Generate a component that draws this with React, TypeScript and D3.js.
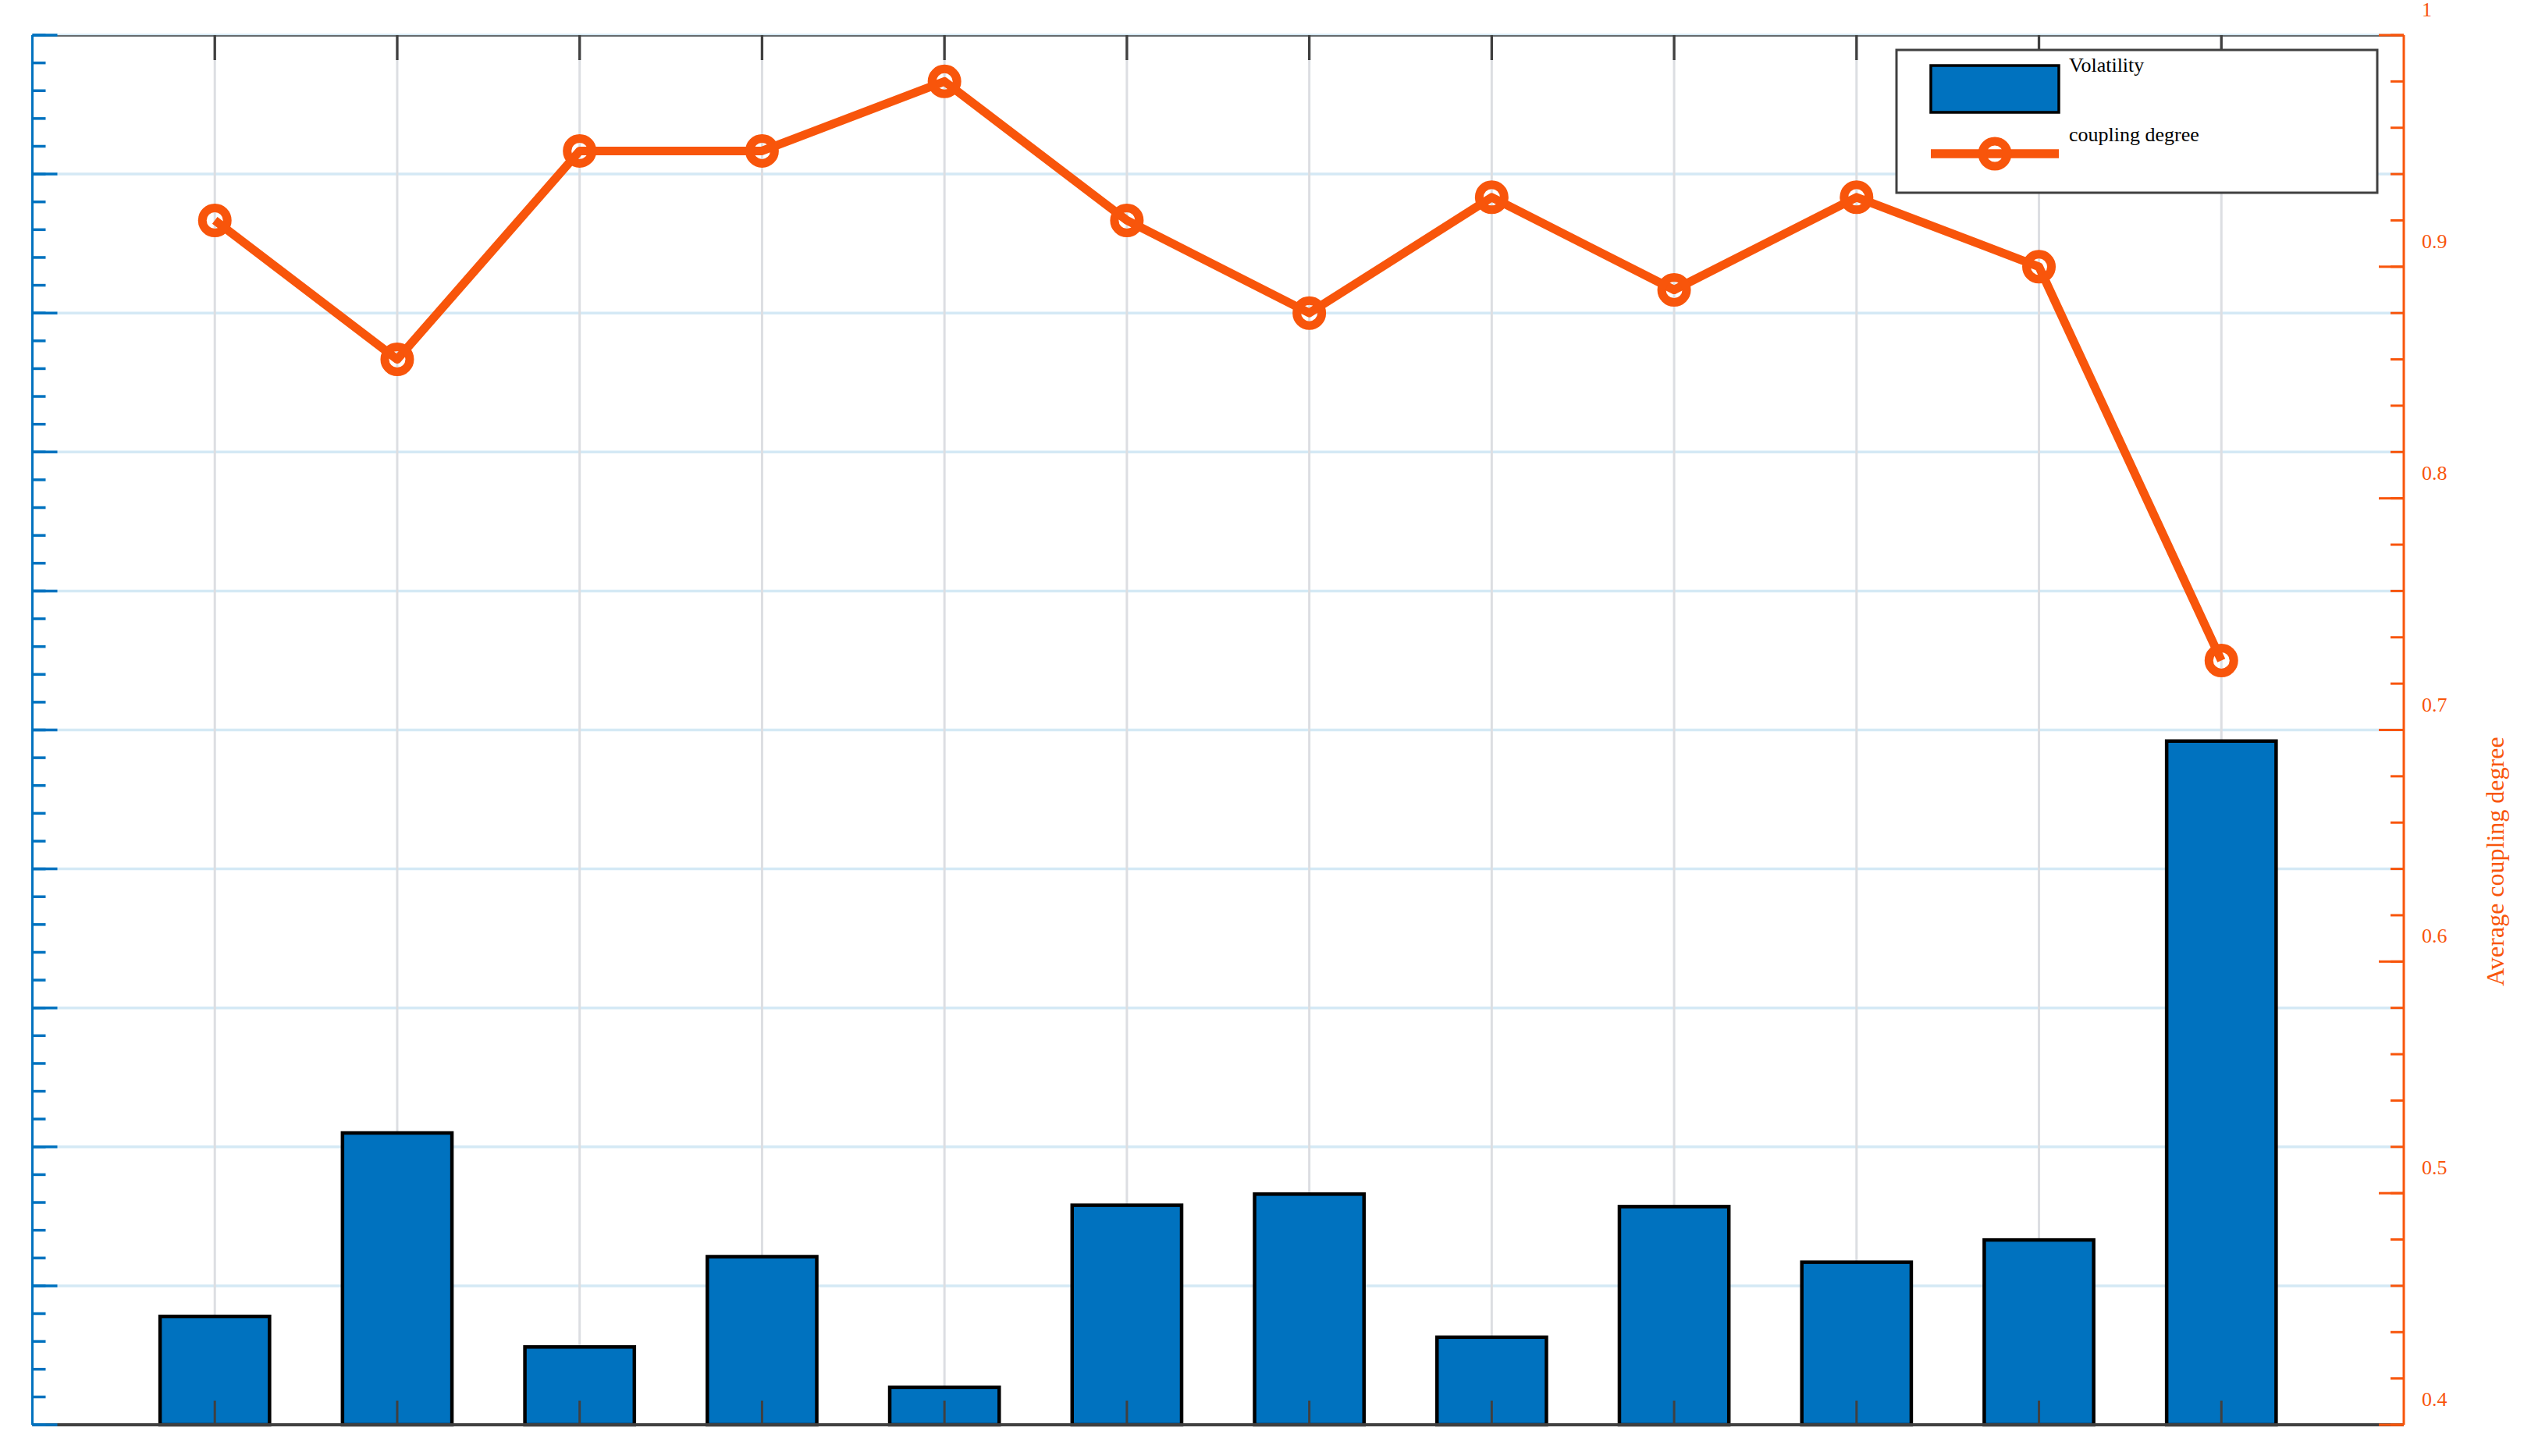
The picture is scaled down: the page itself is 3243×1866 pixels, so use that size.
import React, { useRef, useEffect } from 'react';
import * as d3 from 'd3';

// values
const categories = [1, 2, 3, 4, 5, 6, 7, 8, 9, 10, 11, 12];
const volatility = [0.078, 0.21, 0.056, 0.121, 0.027, 0.158, 0.166, 0.063, 0.157, 0.117, 0.133, 0.492];
const coupling = [0.92, 0.86, 0.95, 0.95, 0.98, 0.92, 0.88, 0.93, 0.89, 0.93, 0.9, 0.73];
const rightTickLabels = ['0.4', '0.5', '0.6', '0.7', '0.8', '0.9', '1'];
const legendLabels = ['Volatility', 'coupling degree'];

const BLUE = '#0072BF';
const ORANGE = '#F8550B';
const DARK = '#404040';
const FONT = '"Liberation Serif", "DejaVu Serif", serif';

const App = () => {
    const svgRef = useRef<SVGSVGElement>(null);

    useEffect(() => {
        if (!svgRef.current) return;
        d3.select(svgRef.current).selectAll('*').remove();

        const width = 3243;
        const height = 1866;
        const left = 41.5, right = 3080, top = 45, bottom = 1826;

        const svg = d3.select(svgRef.current)
            .attr('width', width)
            .attr('height', height);

        const x = d3.scaleLinear().domain([0, 13]).range([left, right]);
        const y = d3.scaleLinear().domain([0, 1]).range([bottom, top]);
        const y2 = d3.scaleLinear().domain([0.4, 1]).range([bottom, top]);

        const yMajor = d3.range(0, 1.0001, 0.1);
        const yMinor = d3.range(0, 1.0001, 0.02);
        const y2Major = d3.range(0.4, 1.0001, 0.1);
        const y2Minor = d3.range(0.4, 1.0001, 0.02);

        // grid
        svg.append('g').selectAll('line')
            .data(yMajor)
            .enter().append('line')
            .attr('x1', left).attr('x2', right)
            .attr('y1', d => y(d)).attr('y2', d => y(d))
            .attr('stroke', '#D4E9F5')
            .attr('stroke-width', 3.5);

        svg.append('g').selectAll('line')
            .data(categories)
            .enter().append('line')
            .attr('x1', d => x(d)).attr('x2', d => x(d))
            .attr('y1', top).attr('y2', bottom)
            .attr('stroke', '#DCDEE2')
            .attr('stroke-width', 3);

        // bars
        const barW = x(0.6) - x(0);
        svg.append('g').selectAll('rect')
            .data(volatility)
            .enter().append('rect')
            .attr('x', (d, i) => x(categories[i]) - barW / 2)
            .attr('y', d => y(d))
            .attr('width', barW)
            .attr('height', d => bottom - y(d))
            .attr('fill', BLUE)
            .attr('stroke', '#000')
            .attr('stroke-width', 4.5);

        // line + markers
        const line = d3.line<number>()
            .x((d, i) => x(categories[i]))
            .y(d => y2(d));

        svg.append('path')
            .datum(coupling)
            .attr('d', line)
            .attr('fill', 'none')
            .attr('stroke', ORANGE)
            .attr('stroke-width', 11)
            .attr('stroke-linejoin', 'round');

        svg.append('g').selectAll('circle')
            .data(coupling)
            .enter().append('circle')
            .attr('cx', (d, i) => x(categories[i]))
            .attr('cy', d => y2(d))
            .attr('r', 16)
            .attr('fill', 'none')
            .attr('stroke', ORANGE)
            .attr('stroke-width', 11);

        // box lines
        svg.append('line')
            .attr('x1', left).attr('x2', right)
            .attr('y1', top + 1).attr('y2', top + 1)
            .attr('stroke', DARK).attr('stroke-width', 1.5);
        svg.append('line')
            .attr('x1', left).attr('x2', right)
            .attr('y1', bottom).attr('y2', bottom)
            .attr('stroke', DARK).attr('stroke-width', 4);

        // x ticks top and bottom
        const xt = svg.append('g');
        xt.selectAll('.xtop')
            .data(categories)
            .enter().append('line')
            .attr('x1', d => x(d)).attr('x2', d => x(d))
            .attr('y1', top).attr('y2', top + 32)
            .attr('stroke', DARK).attr('stroke-width', 3.3);
        xt.selectAll('.xbot')
            .data(categories)
            .enter().append('line')
            .attr('x1', d => x(d)).attr('x2', d => x(d))
            .attr('y1', bottom).attr('y2', bottom - 31)
            .attr('stroke', DARK).attr('stroke-width', 3);

        // left axis (no labels)
        const la = svg.append('g');
        la.append('line')
            .attr('x1', left).attr('x2', left)
            .attr('y1', top).attr('y2', bottom)
            .attr('stroke', BLUE).attr('stroke-width', 3);
        la.selectAll('.minor')
            .data(yMinor)
            .enter().append('line')
            .attr('x1', left).attr('x2', left + 17)
            .attr('y1', d => y(d)).attr('y2', d => y(d))
            .attr('stroke', BLUE).attr('stroke-width', 3.5);
        la.selectAll('.major')
            .data(yMajor)
            .enter().append('line')
            .attr('x1', left).attr('x2', left + 32)
            .attr('y1', d => y(d)).attr('y2', d => y(d))
            .attr('stroke', BLUE).attr('stroke-width', 3.5);

        // right axis
        const ra = svg.append('g');
        ra.append('line')
            .attr('x1', right).attr('x2', right)
            .attr('y1', top).attr('y2', bottom)
            .attr('stroke', ORANGE).attr('stroke-width', 3);
        ra.selectAll('.minor')
            .data(y2Minor)
            .enter().append('line')
            .attr('x1', right).attr('x2', right - 17)
            .attr('y1', d => y2(d)).attr('y2', d => y2(d))
            .attr('stroke', ORANGE).attr('stroke-width', 3);
        ra.selectAll('.major')
            .data(y2Major)
            .enter().append('line')
            .attr('x1', right).attr('x2', right - 32)
            .attr('y1', d => y2(d)).attr('y2', d => y2(d))
            .attr('stroke', ORANGE).attr('stroke-width', 3);
        ra.selectAll('text')
            .data(y2Major)
            .enter().append('text')
            .attr('x', right + 23)
            .attr('y', d => y2(d) - 24)
            .text((d, i) => rightTickLabels[i])
            .style('font-family', FONT)
            .style('font-size', '26px')
            .style('fill', ORANGE);

        svg.append('text')
            .attr('transform', 'translate(3208, 1104) rotate(-90)')
            .attr('text-anchor', 'middle')
            .text('Average coupling degree')
            .style('font-family', FONT)
            .style('font-size', '32px')
            .style('fill', ORANGE);

        // legend
        const lg = svg.append('g');
        lg.append('rect')
            .attr('x', 2430).attr('y', 64)
            .attr('width', 616).attr('height', 183)
            .attr('fill', '#fff')
            .attr('stroke', DARK).attr('stroke-width', 3);
        lg.append('rect')
            .attr('x', 2474).attr('y', 84)
            .attr('width', 164).attr('height', 60)
            .attr('fill', BLUE)
            .attr('stroke', '#000').attr('stroke-width', 3.5);
        lg.append('line')
            .attr('x1', 2474).attr('x2', 2638)
            .attr('y1', 197).attr('y2', 197)
            .attr('stroke', ORANGE).attr('stroke-width', 11.5);
        lg.append('circle')
            .attr('cx', 2556).attr('cy', 197).attr('r', 16)
            .attr('fill', 'none')
            .attr('stroke', ORANGE).attr('stroke-width', 11);
        lg.selectAll('text')
            .data(legendLabels)
            .enter().append('text')
            .attr('x', 2651)
            .attr('y', (d, i) => 92 + i * 89)
            .text(d => d)
            .style('font-family', FONT)
            .style('font-size', '26px')
            .style('fill', '#000');
    }, []);

    return (
        <div style={{ position: 'absolute', left: 0, top: 0 }}>
            <svg ref={svgRef}></svg>
        </div>
    );
};

export default App;
